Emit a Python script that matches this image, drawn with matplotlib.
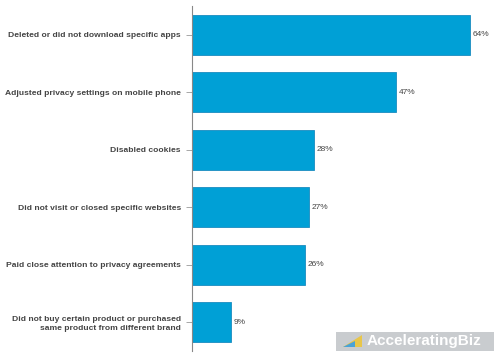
import matplotlib
matplotlib.use("Agg")
import matplotlib.pyplot as plt
from matplotlib.patches import FancyBboxPatch, Polygon

categories = [
    "Deleted or did not download specific apps",
    "Adjusted privacy settings on mobile phone",
    "Disabled cookies",
    "Did not visit or closed specific websites",
    "Paid close attention to privacy agreements",
    "Did not buy certain product or purchased\nsame product from different brand",
]
values = [64, 47, 28, 27, 26, 9]

plt.rcParams["font.family"] = ["Liberation Sans", "DejaVu Sans"]

fig = plt.figure(figsize=(5, 3.57), dpi=100)
ax = fig.add_axes([0.384, 0.017, 0.608, 0.966])

ypos = list(range(len(categories)))
ax.barh(ypos, values, height=0.7, color="#00a0d6", edgecolor="#1a8cc0", linewidth=0.6)
for y, v in zip(ypos, values):
    ax.text(v + 0.6, y, f"{v}%", va="center", ha="left", fontsize=6, color="#444444")

ax.set_xlim(0, 70)
ax.set_ylim(len(categories) - 0.5, -0.5)
ax.set_yticks(ypos)
ax.set_yticklabels(categories, fontsize=6.1, fontweight="bold", color="#444444",
                   linespacing=1.45)
ax.tick_params(axis="y", length=4, width=0.6, color="#999999", pad=4)
ax.set_xticks([])
for s in ["top", "right", "bottom"]:
    ax.spines[s].set_visible(False)
ax.spines["left"].set_color("#888888")
ax.spines["left"].set_linewidth(0.8)

# watermark
W, H = 500, 357
box = FancyBboxPatch((336 / W, 1 - 351 / H), 158 / W, 19 / H,
                     boxstyle="square,pad=0", transform=fig.transFigure,
                     facecolor="#c9cccf", edgecolor="none")
fig.patches.append(box)
icon = Polygon([(343 / W, 1 - 347 / H), (362 / W, 1 - 347 / H), (362 / W, 1 - 335 / H)],
               closed=True, transform=fig.transFigure, facecolor="#e8c64a", edgecolor="none")
icon2 = Polygon([(343 / W, 1 - 347 / H), (355 / W, 1 - 347 / H), (355 / W, 1 - 341 / H)],
                closed=True, transform=fig.transFigure, facecolor="#4aa3d8", edgecolor="none")
fig.patches.extend([icon, icon2])
fig.text(367 / W, 1 - 341.5 / H, "AcceleratingBiz", fontsize=11, fontweight="bold",
         color="white", va="center", ha="left")

fig.savefig("out.png", dpi=100)
